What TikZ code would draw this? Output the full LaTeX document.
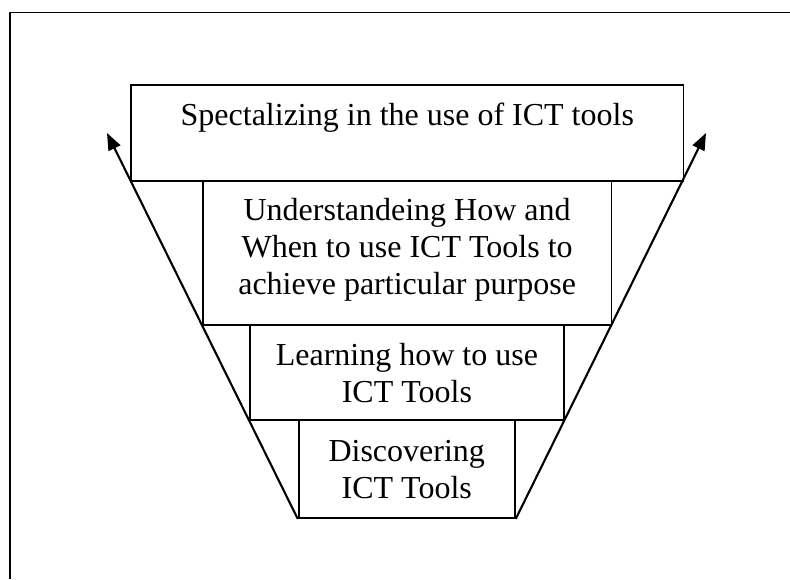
\documentclass[tikz,border=0pt]{standalone}
\usepackage{fontspec}
\setmainfont{Liberation Serif}
\usetikzlibrary{arrows.meta}
\tikzset{
  boxst/.style={draw, line width=1.8pt, rectangle, inner sep=0pt, anchor=north west},
  txt/.style={inner sep=0pt, anchor=north, align=center, font=\fontsize{32}{37}\selectfont},
  funnel/.style={line width=2.1pt, -{Triangle[length=17pt,width=13pt]}},
  frame/.style={line width=1.8pt}
}
\begin{document}
\begin{tikzpicture}[x=1pt,y=-1pt]
\useasboundingbox (0,0) rectangle (790,579);
% outer frame (clipped at right and bottom)
\coordinate (fr) at (790,12.5);
\coordinate (fc) at (10,12.5);
\coordinate (fb) at (10,579);
\draw[frame] (fr) -- (fc) -- (fb);
% boxes
\node[boxst, minimum width=552.2pt, minimum height=96pt] (b1) at (130.3,84) {};
\node[boxst, minimum width=408.6pt, minimum height=144pt] (b2) at (201.9,180) {};
\node[boxst, minimum width=314pt, minimum height=95pt] (b3) at (249,324) {};
\node[boxst, minimum width=216.3pt, minimum height=98pt] (b4) at (297.7,419) {};
% texts
\node[txt] (t1) at ([yshift=-15.8pt]b1.north) {\strut Spectalizing in the use of ICT tools};
\node[txt] (t2) at ([yshift=-14.5pt]b2.north) {\strut Understandeing How and\\\strut When to use ICT Tools to\\\strut achieve particular purpose};
\node[txt] (t3) at ([yshift=-15.3pt]b3.north) {\strut Learning how to use\\\strut ICT Tools};
\node[txt] (t4) at ([yshift=-16pt]b4.north) {\strut Discovering\\\strut ICT Tools};
% funnel arrows
\coordinate (tl) at (107,133);
\coordinate (tr) at (706,133);
\draw[funnel] (b4.south west) -- (tl);
\draw[funnel] (b4.south east) -- (tr);
\end{tikzpicture}
\end{document}
